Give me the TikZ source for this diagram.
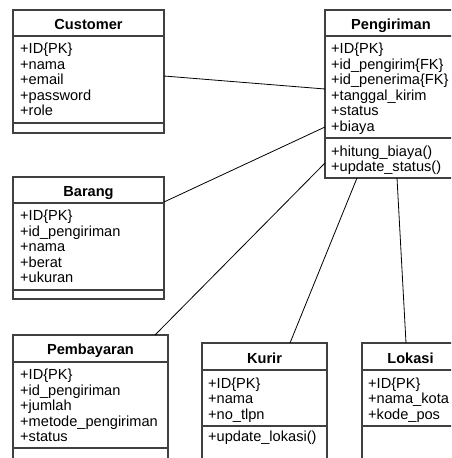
\documentclass[tikz,border=0pt]{standalone}
\usepackage{fontspec}
\setmainfont{Liberation Sans}
\usepackage{tikz}

\begin{document}
\begin{tikzpicture}[
			x=1pt, y=-1pt,
			every node/.style={font=\fontsize{14.6}{16}\selectfont},
			classbox/.style={draw=black!75, line width=1.2pt, inner sep=0pt, outer sep=0pt},
			divider/.style={draw=black!75, line width=1.2pt},
			cname/.style={anchor=base, inner sep=0pt, font=\fontsize{14.6}{16}\selectfont\bfseries},
			attr/.style={anchor=base west, inner sep=0pt},
			link/.style={line width=0.8pt}
			]
			\useasboundingbox (0,0) rectangle (451,458);
			\clip (0,0) rectangle (451,458);
			
			% class boxes
			\node[classbox, minimum width=151, minimum height=123] (customer) at (88.5,71.5) {};
			\node[classbox, minimum width=132, minimum height=168] (pengiriman) at (391,94) {};
			\node[classbox, minimum width=151, minimum height=122] (barang) at (88.5,238) {};
			\node[classbox, minimum width=155, minimum height=135] (pembayaran) at (90.5,402.5) {};
			\node[classbox, minimum width=125, minimum height=132] (kurir) at (264.5,409) {};
			\node[classbox, minimum width=97, minimum height=132] (lokasi) at (410.5,409) {};
			
			% compartments
			\draw[divider] (customer.west |- 0,36) -- (customer.east |- 0,36);
			\draw[divider] (customer.west |- 0,123) -- (customer.east |- 0,123);
			\draw[divider] (pengiriman.west |- 0,36) -- (pengiriman.east |- 0,36);
			\draw[divider] (pengiriman.west |- 0,138) -- (pengiriman.east |- 0,138);
			\draw[divider] (barang.west |- 0,203) -- (barang.east |- 0,203);
			\draw[divider] (barang.west |- 0,290) -- (barang.east |- 0,290);
			\draw[divider] (pembayaran.west |- 0,362) -- (pembayaran.east |- 0,362);
			\draw[divider] (pembayaran.west |- 0,448) -- (pembayaran.east |- 0,448);
			\draw[divider] (kurir.west |- 0,370) -- (kurir.east |- 0,370);
			\draw[divider] (kurir.west |- 0,426) -- (kurir.east |- 0,426);
			\draw[divider] (lokasi.west |- 0,370) -- (lokasi.east |- 0,370);
			\draw[divider] (lokasi.west |- 0,426) -- (lokasi.east |- 0,426);
			
			% titles
			\node[cname] (customer-name) at (88.5,29.5) {Customer};
			\node[cname] (pengiriman-name) at (391,29.5) {Pengiriman};
			\node[cname] (barang-name) at (88.5,196.5) {Barang};
			\node[cname] (pembayaran-name) at (90.5,354.5) {Pembayaran};
			\node[cname] (kurir-name) at (264.5,363) {Kurir};
			\node[cname] (lokasi-name) at (410.5,363) {Lokasi};
			
			% attributes and methods
			\foreach \t [count=\i from 0] in {+ID\{PK\}, +nama, +email, +password, +role}
				\node[attr] (customer-a\i) at (20,53.5+15.6*\i) {\t};
			\foreach \t [count=\i from 0] in {+ID\{PK\}, +id\_pengirim\{FK\}, +id\_penerima\{FK\}, +tanggal\_kirim, +status, +biaya}
				\node[attr] (pengiriman-a\i) at (331,53.5+15.6*\i) {\t};
			\foreach \t [count=\i from 0] in {+hitung\_biaya(), +update\_status()}
				\node[attr] (pengiriman-m\i) at (331,156+15.6*\i) {\t};
			\foreach \t [count=\i from 0] in {+ID\{PK\}, +id\_pengiriman, +nama, +berat, +ukuran}
				\node[attr] (barang-a\i) at (20,220.5+15.6*\i) {\t};
			\foreach \t [count=\i from 0] in {+ID\{PK\}, +id\_pengiriman, +jumlah, +metode\_pengiriman, +status}
				\node[attr] (pembayaran-a\i) at (20,379.5+15.6*\i) {\t};
			\foreach \t [count=\i from 0] in {+ID\{PK\}, +nama, +no\_tlpn}
				\node[attr] (kurir-a\i) at (208,388+15.6*\i) {\t};
			\node[attr] (kurir-m0) at (208,441.5) {+update\_lokasi()};
			\foreach \t [count=\i from 0] in {+ID\{PK\}, +nama\_kota, +kode\_pos}
				\node[attr] (lokasi-a\i) at (368,388+15.6*\i) {\t};
			
			% associations
			\draw[link] (customer.east |- 0,76) -- (pengiriman.west |- 0,89);
			\draw[link] (barang.east |- 0,202) -- (pengiriman.west |- 0,127);
			\draw[link] (pembayaran.north -| 155,0) -- (pengiriman.west |- 0,163);
			\draw[link] (kurir.north -| 290,0) -- (pengiriman.south -| 357,0);
			\draw[link] (lokasi.north -| 406,0) -- (pengiriman.south -| 397,0);
		\end{tikzpicture}
\end{document}
